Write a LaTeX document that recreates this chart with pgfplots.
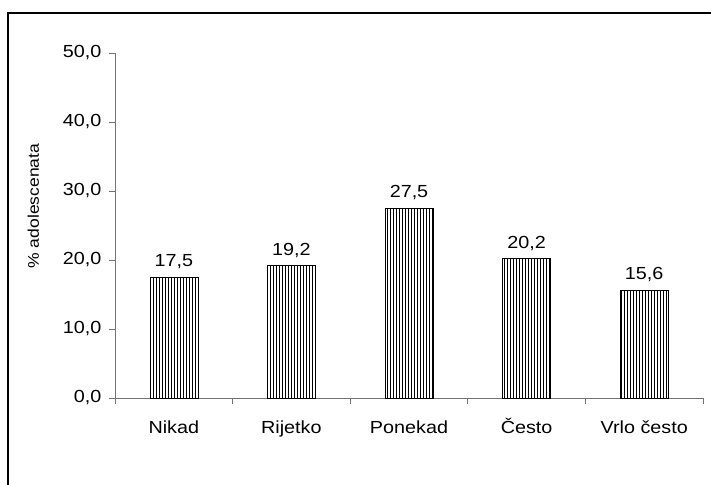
\documentclass[border=0pt]{standalone}
\usepackage{fontspec}
\setmainfont{Liberation Sans}[FakeStretch=1.13]
\usepackage{pgfplots}
\pgfplotsset{compat=1.18}
\usetikzlibrary{patterns}
\begin{document}
\begin{tikzpicture}[x=1pt,y=1pt]
\useasboundingbox (0,0) rectangle (711,484);
\clip (0,0) rectangle (711,484);
\draw[black, line width=1.2pt] (8,-30) rectangle (740,471);
\begin{axis}[
  at={(115pt,86pt)}, anchor=south west,
  scale only axis, width=588pt, height=345pt,
  xmin=-0.5, xmax=4.5, ymin=0, ymax=50,
  axis x line=bottom, axis y line=left,
  axis line style={-, draw=black!55, line width=0.8pt},
  every tick/.style={draw=black!55, line width=0.8pt},
  tick align=outside,
  major tick length=6pt, minor tick length=6pt,
  ytick={0,10,...,50},
  xtick={0,1,2,3,4},
  xticklabels={Nikad,Rijetko,Ponekad,Često,Vrlo često},
  major x tick style={draw=none},
  minor xtick={-0.5,0.5,1.5,2.5,3.5,4.5},
  tick label style={font=\fontsize{17.5}{20}\selectfont},
  /pgf/number format/assume math mode=true,
  yticklabel style={/pgf/number format/fixed, /pgf/number format/fixed zerofill, /pgf/number format/precision=1, /pgf/number format/use comma, xshift=-4pt},
  xticklabel style={anchor=north, text height=12.5pt, text depth=4pt, yshift=-13pt},
  ylabel={\% adolescenata},
  ylabel style={font=\fontsize{15.5}{18}\selectfont, at={(axis description cs:-0.139,0.556)}, anchor=center},
  nodes near coords,
  nodes near coords style={font=\fontsize{17.5}{20}\selectfont, /pgf/number format/fixed, /pgf/number format/fixed zerofill, /pgf/number format/precision=1, /pgf/number format/use comma, yshift=4.5pt},
  clip=false,
]
\addplot[ybar, bar width=48pt, draw=black, line width=0.6pt, pattern=vertical lines, pattern color=black]
  coordinates {(0,17.5) (1,19.2) (2,27.5) (3,20.2) (4,15.6)};
\end{axis}
\end{tikzpicture}
\end{document}
